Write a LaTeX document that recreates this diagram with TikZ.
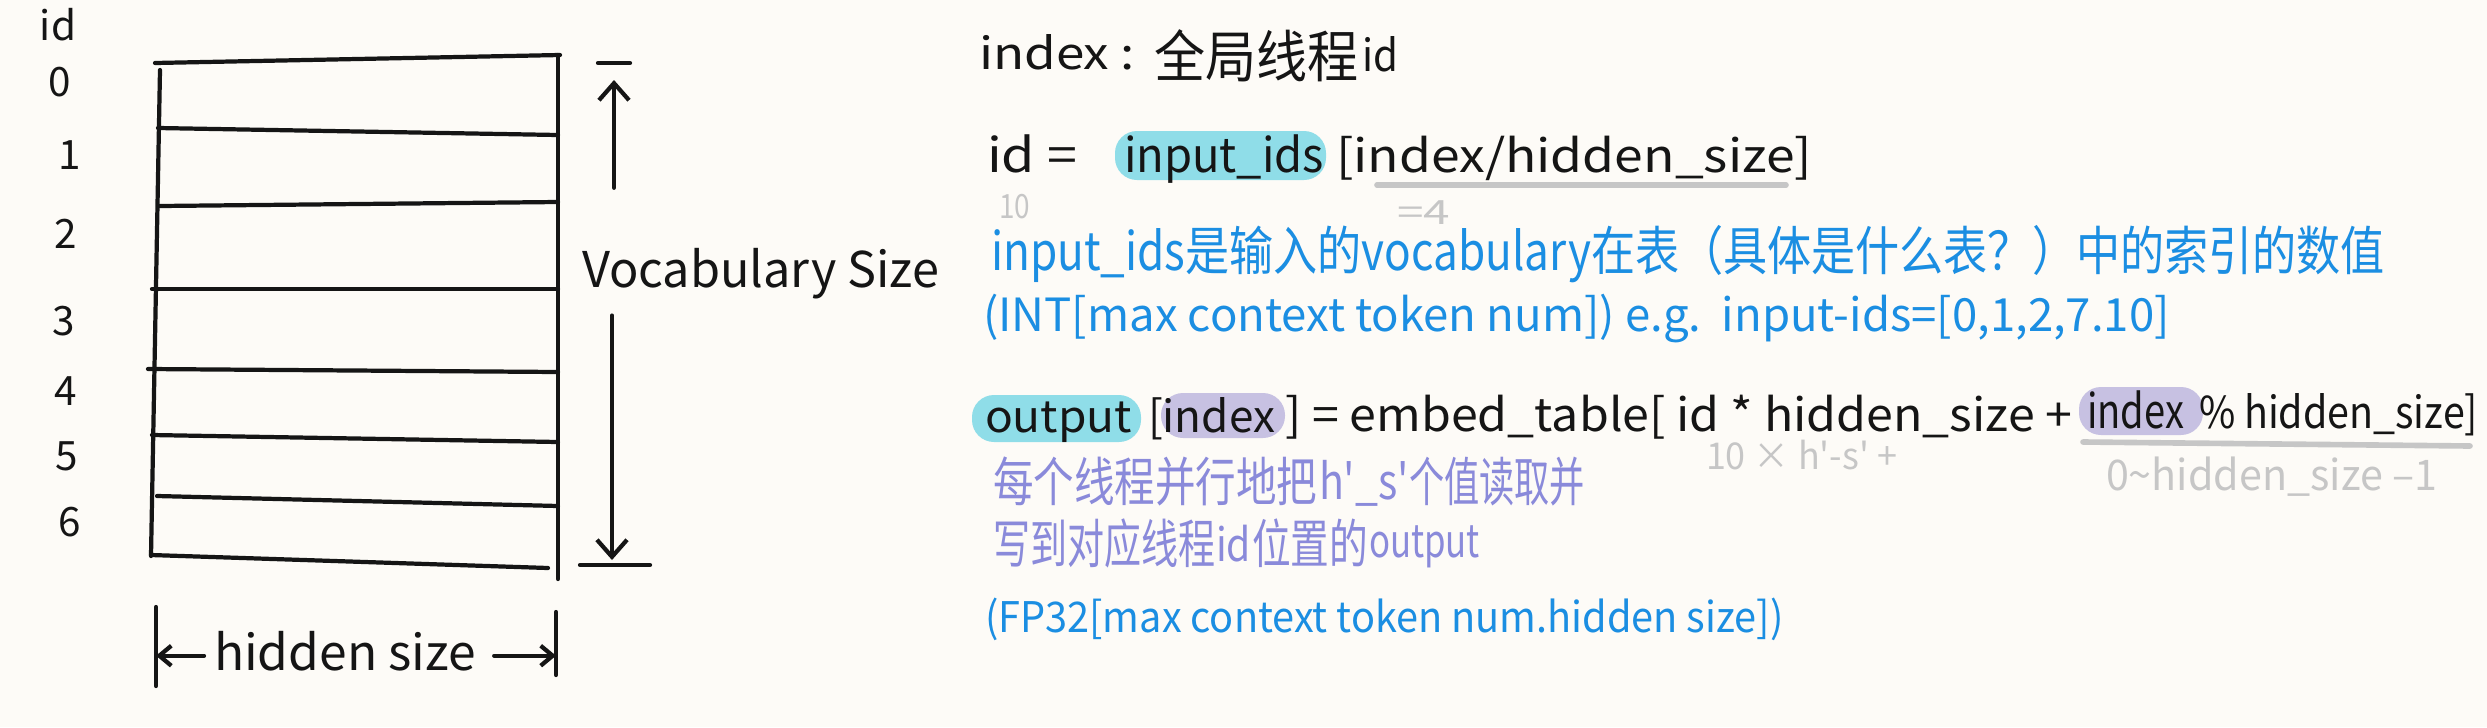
\documentclass[tikz,border=0pt]{standalone}
\usepackage{fontspec}
\setmainfont{Noto Sans CJK SC}
\newfontfamily\hw{Noto Sans CJK SC}
\usetikzlibrary{arrows.meta}
\definecolor{bg}{HTML}{FDFBF7}
\definecolor{hlcyan}{HTML}{8FDDE8}
\definecolor{hlpurple}{HTML}{C7C1E2}
\definecolor{txtblue}{HTML}{1B8EE2}
\definecolor{txtpurple}{HTML}{8A8ADA}
\definecolor{txtgray}{HTML}{C6C6C6}
\definecolor{ink}{HTML}{151515}
% size (pt), target width, text: fixed height, horizontal fit
\newcommand\fs[3]{{\fontsize{#1pt}{#1pt}\selectfont\resizebox{#2}{\height}{#3}}}
\begin{document}
\begin{tikzpicture}[x=0.01cm,y=-0.01cm,
  pen/.style={line width=1.2pt,line cap=round,ink},
  grayline/.style={line width=1.6pt,line cap=round,txtgray},
  txt/.style={inner sep=0pt,outer sep=0pt,anchor=base west,text=ink,font=\hw},
  num/.style={inner sep=0pt,outer sep=0pt,anchor=center,text=ink,font=\hw\fontsize{11.5}{13}\selectfont},
  hl/.style={rounded corners=0.22cm},
  barb/.style={-{Straight Barb[length=0.17cm,width=0.3cm,line width=1.2pt]}},
  sbarb/.style={-{Straight Barb[length=0.12cm,width=0.2cm,line width=1.2pt]}}]
\fill[bg] (0,0) rectangle (2487,727);
\useasboundingbox (0,0) rectangle (2487,727);

% ---- left: table
\draw[pen] (155,63) -- (560,55);
\draw[pen] (160,70) -- (151,556);
\draw[pen] (558,55) -- (558,579);
\draw[pen] (158,128) -- (558,135);
\draw[pen] (160,206) -- (558,202);
\draw[pen] (152,289) -- (558,289);
\draw[pen] (148,369) -- (558,372);
\draw[pen] (152,435) -- (558,442);
\draw[pen] (157,496) -- (558,506);
\draw[pen] (151,555) -- (548,568);

\node[num] (idl) at (58,25) {id};
\node[num] (n0) at (60,82) {0};
\node[num] (n1) at (70,155) {1};
\node[num] (n2) at (66,234) {2};
\node[num] (n3) at (64,321) {3};
\node[num] (n4) at (66,391) {4};
\node[num] (n5) at (67,456) {5};
\node[num] (n6) at (70,522) {6};

% ---- vocabulary size
\node[txt] (vs) at (582,287) {\fs{14}{3.57cm}{Vocabulary Size}};
\coordinate (vtop) at (614,80);
\coordinate (vbot) at (612,560);
\coordinate (vt1) at (598,63);
\coordinate (vt2) at (630,63);
\coordinate (vb1) at (580,565);
\coordinate (vb2) at (650,565);
\draw[pen] (vt1) -- (vt2);
\draw[pen] (vb1) -- (vb2);
\draw[pen,barb] ([yshift=0.6cm]vs.north -| vtop) -- (vtop);
\draw[pen,barb] ([yshift=-0.17cm]vs.south -| vbot) -- (vbot);

% ---- hidden size
\node[txt] (hs) at (214,670) {\fs{14}{2.62cm}{hidden size}};
\coordinate (lb1) at (156,607);
\coordinate (lb2) at (156,686);
\coordinate (rb1) at (556,612);
\coordinate (rb2) at (556,675);
\draw[pen] (lb1) -- (lb2);
\draw[pen] (rb1) -- (rb2);
\draw[pen,sbarb] ([xshift=-0.1cm,yshift=-0.05cm]hs.west) -- ([yshift=-0.05cm]hs.west -| lb1);
\draw[pen,sbarb] ([xshift=0.18cm,yshift=-0.05cm]hs.east) -- ([yshift=-0.05cm]hs.east -| rb1);

% ---- right: line A
\node[txt] (la1) at (979,69) {\fs{12.5}{1.56cm}{index :}};
\node[txt] (la2) at (1154,77) {\fs{16}{2.04cm}{全局线程}};
\node[txt] (la3) at (1362,71) {\fs{12.5}{0.36cm}{id}};

% ---- line B
\fill[hlcyan,hl] (1115,131) rectangle (1326,180);
\node[txt] (lbid) at (987,172) {\fs{13.5}{0.90cm}{id =}};
\node[txt] (lbin) at (1124,172) {\fs{13.5}{2.00cm}{input\_ids}};
\node[txt] (lbix) at (1336,172) {\fs{13}{4.76cm}{[index/hidden\_size]}};
\coordinate (ul1a) at (1377,185);
\coordinate (ul1b) at (1786,185);
\draw[grayline] (ul1a) -- (ul1b);
\node[txt,text=txtgray] (g10) at (999,218) {\fs{9.5}{0.31cm}{10}};
\node[txt,text=txtgray] (g4) at (1397,224) {\fs{9.5}{0.53cm}{=4}};

% ---- blue lines
\node[txt,text=txtblue] (lc) at (991,270) {\fs{15}{13.93cm}{input\_ids是输入的vocabulary在表（具体是什么表？）中的索引的数值}};
\node[txt,text=txtblue] (ld) at (983,331) {\fs{13}{11.86cm}{(INT[max context token num]) e.g.\ \ input-ids=[0,1,2,7.10]}};

% ---- line E
\fill[hlcyan,hl] (972,395) rectangle (1141,442);
\fill[hlpurple,hl] (1161,393) rectangle (1285,438);
\fill[hlpurple,hl] (2079,387) rectangle (2203,435);
\node[txt] (le1) at (985,432) {\fs{12.5}{1.47cm}{output}};
\node[txt] (le2) at (1148,432) {\fs{12.5}{1.27cm}{[index}};
\node[txt] (le3) at (1285,431) {\fs{13}{7.87cm}{] = embed\_table[ id * hidden\_size +}};
\node[txt] (le4) at (2087,428) {\fs{13.5}{0.97cm}{index}};
\node[txt] (le5) at (2199,428) {\fs{12.5}{2.79cm}{\% hidden\_size]}};
\coordinate (ul2a) at (2083,442);
\coordinate (ul2b) at (2470,446);
\draw[grayline] (ul2a) -- (ul2b);
\node[txt,text=txtgray] (g10x) at (1706,469) {\fs{10.5}{1.91cm}{10 × h'-s' +}};
\node[txt,text=txtgray] (grng) at (2106,490) {\fs{12}{3.31cm}{0\textasciitilde hidden\_size –1}};

% ---- purple lines
\node[txt,text=txtpurple] (lp1a) at (993,501) {\fs{15}{3.24cm}{每个线程并行地把}};
\node[txt,text=txtpurple] (lp1b) at (1319,499) {\fs{14}{0.90cm}{h'\_s'}};
\node[txt,text=txtpurple] (lp1c) at (1409,501) {\fs{15}{1.76cm}{个值读取并}};
\node[txt,text=txtpurple] (lp2a) at (993,563) {\fs{15}{2.22cm}{写到对应线程}};
\node[txt,text=txtpurple] (lp2b) at (1216,561) {\fs{13}{0.35cm}{id}};
\node[txt,text=txtpurple] (lp2c) at (1252,563) {\fs{15}{1.16cm}{位置的}};
\node[txt,text=txtpurple] (lp2d) at (1369,557) {\fs{13}{1.11cm}{output}};

% ---- last blue line
\node[txt,text=txtblue] (lf) at (985,632) {\fs{12}{7.98cm}{(FP32[max context token num.hidden size])}};
\end{tikzpicture}
\end{document}
